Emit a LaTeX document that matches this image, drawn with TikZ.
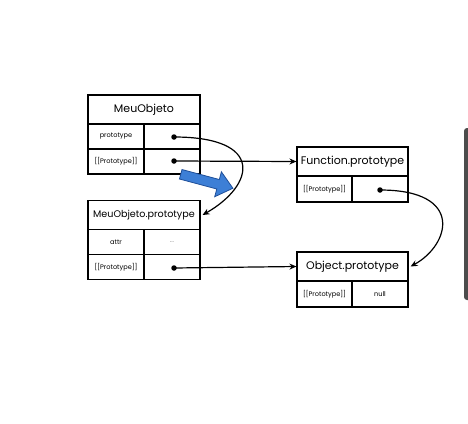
\documentclass[tikz,border=0pt]{standalone}
\usepackage{fontspec}
\setmainfont{Poppins}
\usetikzlibrary{arrows.meta,shapes.arrows}
\definecolor{hintblue}{HTML}{3D7FD6}
\definecolor{hintedge}{HTML}{1F4F99}
\tikzset{
  titlebox/.style={draw,line width=1.1pt,minimum width=112pt,minimum height=29pt,inner sep=0pt,font=\fontsize{11}{13}\selectfont},
  cellbox/.style={draw,line width=1.1pt,minimum width=56pt,minimum height=25pt,inner sep=0pt,font=\fontsize{6.6}{8}\selectfont},
  ptr/.style={line width=1.2pt,-{Stealth[length=7pt,width=6pt]}},
  dot/.style={circle,fill,inner sep=0pt,minimum size=5.5pt}
}
\begin{document}
\begin{tikzpicture}[x=1pt,y=-1pt]
\useasboundingbox (0,0) rectangle (468,423);
\fill[black!70,rounded corners=3pt] (464,128) rectangle (474,300);
% MeuObjeto
\node[titlebox] (meu) at (144,109.5) {MeuObjeto};
\node[cellbox] (meuproto) at (116,136.5) {prototype};
\node[cellbox] (meuprotoval) at (172,136.5) {};
\node[cellbox] (meuint) at (116,161.5) {[[Prototype]]};
\node[cellbox] (meuintval) at (172,161.5) {};
% MeuObjeto.prototype
\node[titlebox,font=\fontsize{9.6}{12}\selectfont] (meup) at (144,215) {MeuObjeto.prototype};
\node[cellbox] (meupattr) at (116,242) {attr};
\node[cellbox,text=black!45] (meupattrval) at (172,242) {...};
\node[cellbox] (meupint) at (116,267) {[[Prototype]]};
\node[cellbox] (meupintval) at (172,267) {};
% Function.prototype
\node[titlebox,minimum width=111pt] (func) at (352.5,161.5) {Function.prototype};
\node[cellbox,minimum width=55pt,minimum height=26pt] (funcint) at (324.5,189) {[[Prototype]]};
\node[cellbox,minimum width=56pt,minimum height=26pt] (funcintval) at (380,189) {};
% Object.prototype
\node[titlebox,minimum width=111pt] (obj) at (352.5,266.5) {Object.prototype};
\node[cellbox,minimum width=55pt,minimum height=26pt] (objint) at (324.5,294) {[[Prototype]]};
\node[cellbox,minimum width=56pt,minimum height=26pt] (objintval) at (380,294) {null};
% ponteiros
\node[dot] (d1) at (174,137) {};
\node[dot] (d2) at (174,161) {};
\node[dot] (d3) at (174,268) {};
\node[dot] (d4) at (380,190) {};
\draw[ptr] (d1.center) .. controls (265,137) and (255,185) .. ([xshift=2pt]meup.east);
\draw[ptr] (d2.center) -- (func.west);
\draw[ptr] (d3.center) -- (obj.west);
\draw[ptr] (d4.center) .. controls (465,190) and (450,245) .. ([xshift=2pt]obj.east);
% seta azul
\node[single arrow,draw=hintedge,fill=hintblue,line width=0.8pt,minimum height=54pt,minimum width=0pt,
  single arrow head extend=8pt,single arrow tip angle=80,inner sep=4.5pt,rotate=-15] (hint) at (204,180.5) {};
\end{tikzpicture}
\end{document}
